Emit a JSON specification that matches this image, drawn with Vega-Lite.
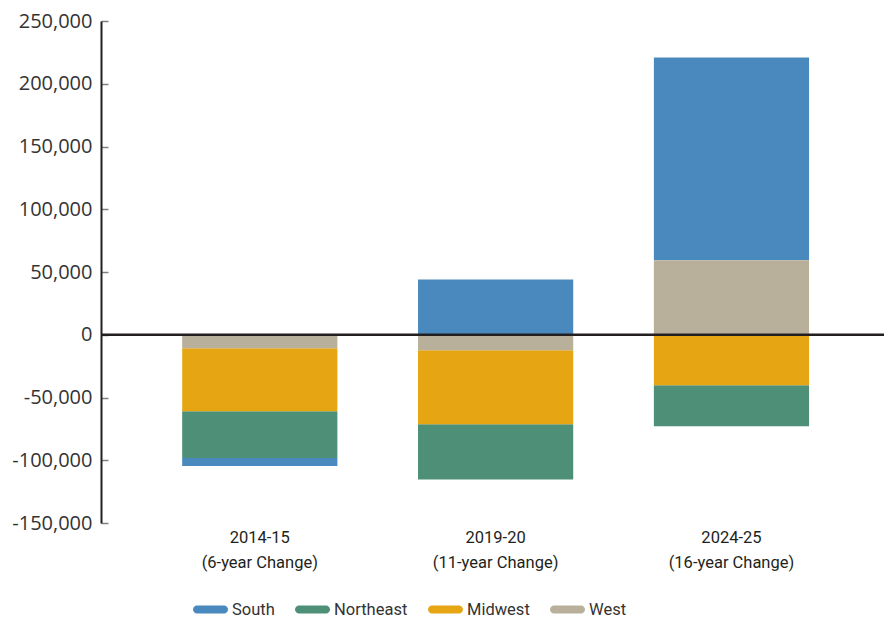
{
  "$schema": "https://vega.github.io/schema/vega-lite/v6.json",
  "autosize": {"type": "none"},
  "width": 783,
  "height": 502,
  "padding": {"left": 101, "top": 21, "right": 0, "bottom": 96},
  "background": "white",
  "config": {"view": {"stroke": null}, "font": "Open Sans"},
  "data": {
    "values": [
      {"period": "2014-15|(6-year Change)", "region": "South", "change": -6400, "rank": 4},
      {"period": "2014-15|(6-year Change)", "region": "Northeast", "change": -37200, "rank": 3},
      {"period": "2014-15|(6-year Change)", "region": "Midwest", "change": -50200, "rank": 2},
      {"period": "2014-15|(6-year Change)", "region": "West", "change": -10800, "rank": 1},
      {"period": "2019-20|(11-year Change)", "region": "South", "change": 44100, "rank": 4},
      {"period": "2019-20|(11-year Change)", "region": "Northeast", "change": -43900, "rank": 3},
      {"period": "2019-20|(11-year Change)", "region": "Midwest", "change": -59000, "rank": 2},
      {"period": "2019-20|(11-year Change)", "region": "West", "change": -12400, "rank": 1},
      {"period": "2024-25|(16-year Change)", "region": "South", "change": 161700, "rank": 4},
      {"period": "2024-25|(16-year Change)", "region": "Northeast", "change": -32700, "rank": 3},
      {"period": "2024-25|(16-year Change)", "region": "Midwest", "change": -40300, "rank": 2},
      {"period": "2024-25|(16-year Change)", "region": "West", "change": 59300, "rank": 1}
    ]
  },
  "layer": [
    {
      "mark": {"type": "bar"},
      "encoding": {
        "x": {
          "field": "period",
          "type": "nominal",
          "sort": null,
          "title": null,
          "scale": {"paddingInner": 0.342, "paddingOuter": 0.331, "align": 0.52},
          "axis": {
            "orient": "bottom",
            "domain": false,
            "ticks": false,
            "labelAngle": 0,
            "labelPadding": 6,
            "labelExpr": "split(datum.label, '|')",
            "labelFont": "Roboto",
            "labelFontSize": 16.5,
            "labelColor": "#231f20",
            "labelLineHeight": 25,
            "labelBaseline": "top"
          }
        },
        "y": {
          "field": "change",
          "type": "quantitative",
          "stack": "zero",
          "title": null,
          "scale": {"domain": [-150000, 250000], "nice": false, "zero": false},
          "axis": {
            "values": [-150000, -100000, -50000, 0, 50000, 100000, 150000, 200000, 250000],
            "format": ",.0f",
            "labelExpr": "replace(datum.label, '−', '-')",
            "grid": false,
            "domainColor": "#231f20",
            "domainWidth": 2,
            "tickColor": "#808080",
            "tickWidth": 1.5,
            "tickSize": -7,
            "labelPadding": 16,
            "labelFont": "Open Sans",
            "labelFontSize": 20,
            "labelColor": "#333333"
          }
        },
        "order": {"field": "rank", "type": "quantitative", "sort": "ascending"},
        "color": {
          "field": "region",
          "type": "nominal",
          "scale": {
            "domain": ["South", "Northeast", "Midwest", "West"],
            "range": ["#4a89be", "#4e8f78", "#e6a512", "#b8b09a"]
          },
          "legend": {
            "title": null,
            "orient": "none",
            "direction": "horizontal",
            "legendX": 92,
            "legendY": 571,
            "symbolType": "M-0.77,-0.23 L0.77,-0.23 A0.23,0.23 0 0 1 0.77,0.23 L-0.77,0.23 A0.23,0.23 0 0 1 -0.77,-0.23 Z",
            "symbolSize": 1225,
            "symbolStrokeWidth": 0,
            "symbolOpacity": 1,
            "labelFont": "Roboto",
            "labelFontSize": 16.5,
            "labelColor": "#333333",
            "labelOffset": 4,
            "columnPadding": 20
          }
        }
      }
    },
    {
      "data": {"values": [{"y": 0}]},
      "mark": {"type": "rule", "color": "#231f20", "strokeWidth": 2.5},
      "encoding": {"y": {"field": "y", "type": "quantitative"}}
    }
  ]
}
